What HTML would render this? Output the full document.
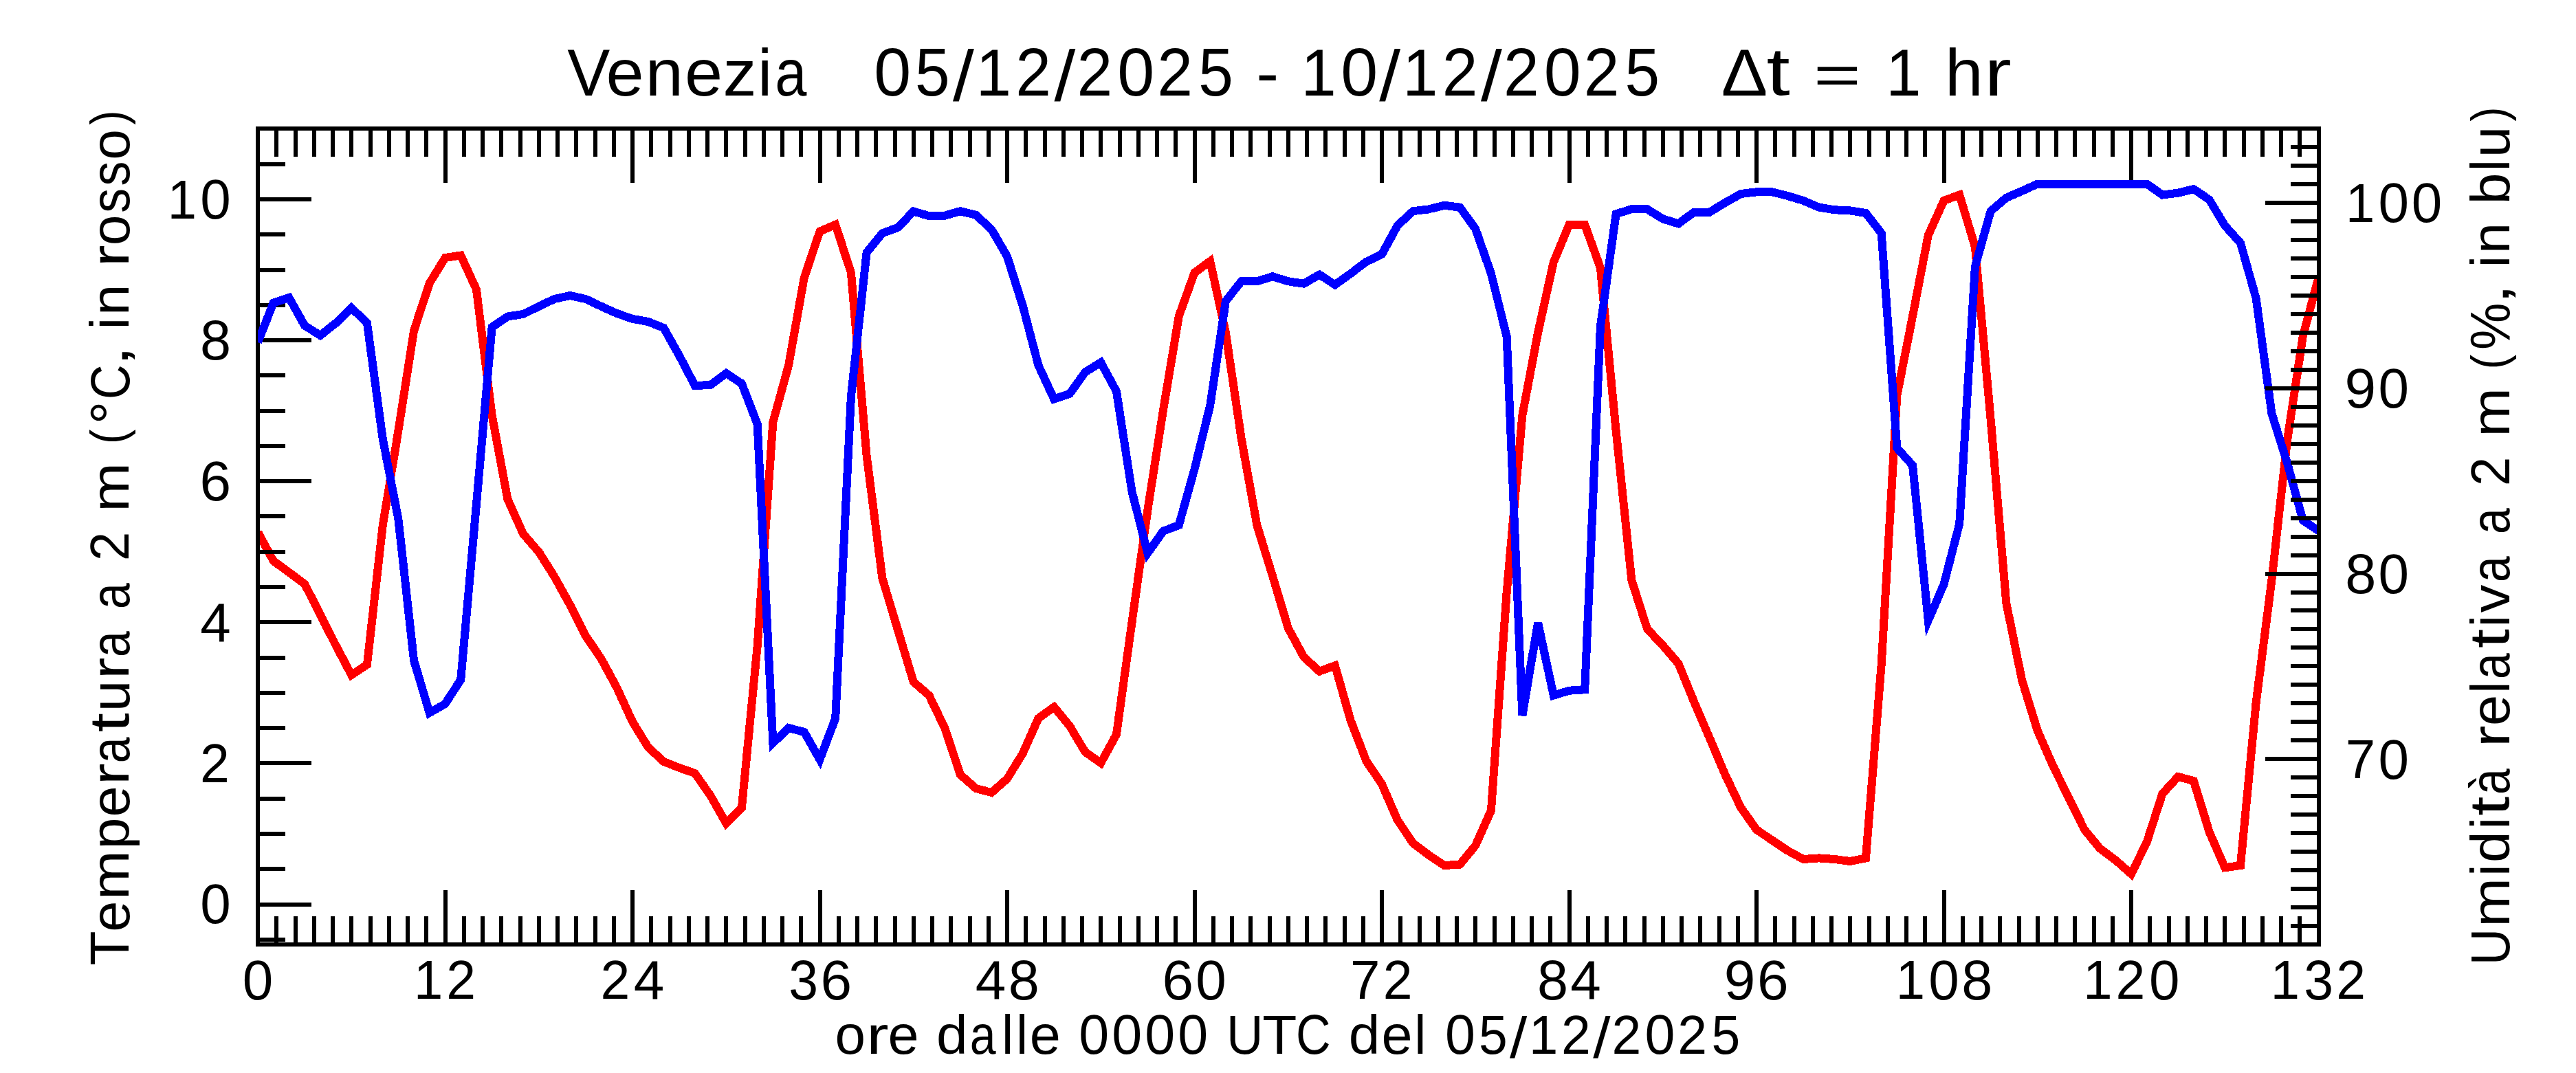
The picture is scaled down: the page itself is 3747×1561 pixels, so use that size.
<!DOCTYPE html>
<html><head><meta charset="utf-8"><title>Venezia</title><style>html,body{margin:0;padding:0;background:#fff;width:3747px;height:1561px;overflow:hidden}svg{display:block}</style></head><body><svg width="3747" height="1561" viewBox="0 0 3747 1561" role="img" aria-label="Venezia 05/12/2025 - 10/12/2025 temperature and humidity chart">
<rect x="0" y="0" width="3747" height="1561" fill="#fff"/>
<defs><clipPath id="pc"><rect x="375" y="187" width="2997.5" height="1187"/></clipPath></defs>
<g clip-path="url(#pc)"><polyline points="375,774 397.71,816 420.42,832.7 443.12,849.5 465.83,894 488.54,939 511.25,982 533.96,967 556.67,765 579.38,626.6 602.08,481 624.79,412 647.5,375 670.21,371.5 692.92,421 715.62,604 738.33,726 761.04,776.8 783.75,803 806.46,839 829.17,880 851.88,925 874.58,958.5 897.29,1000.5 920,1050 942.71,1087 965.42,1108 988.12,1117 1010.83,1125 1033.54,1157.6 1056.25,1197.6 1078.96,1174.6 1101.67,940 1124.38,614 1147.08,531.5 1169.79,403.7 1192.5,336.6 1215.21,326.8 1237.92,396.7 1260.62,663 1283.33,841 1306.04,916.6 1328.75,992 1351.46,1011.7 1374.17,1059 1396.88,1127 1419.58,1147 1442.29,1153 1465,1133 1487.71,1096 1510.42,1045 1533.12,1028.5 1555.83,1056 1578.54,1094 1601.25,1110 1623.96,1068.5 1646.67,904 1669.38,742 1692.08,596 1714.79,460 1737.5,396.7 1760.21,380 1782.92,484 1805.62,637.8 1828.33,764 1851.04,838 1873.75,913.8 1896.46,955.7 1919.17,976.7 1941.88,968.3 1964.58,1048 1987.29,1107 2010,1140.7 2032.71,1193 2055.42,1226.8 2078.12,1243.8 2100.83,1259 2123.54,1257.6 2146.25,1230 2168.96,1179 2191.67,861.5 2214.38,604 2237.08,484 2259.79,381.3 2282.5,326.8 2305.21,326.8 2327.92,389.7 2350.62,626.6 2373.33,844 2396.04,915 2418.75,939 2441.46,965.5 2464.17,1021 2486.88,1074 2509.58,1127.4 2532.29,1175 2555,1207 2577.71,1222.5 2600.42,1237.6 2623.12,1250 2645.83,1248.4 2668.54,1250 2691.25,1253 2713.96,1248.4 2736.67,967 2759.38,575 2782.08,460 2804.79,342.2 2827.5,291.9 2850.21,283.5 2872.92,359 2895.62,610 2918.33,877.4 2941.04,989.3 2963.75,1063 2986.46,1114.6 3009.17,1160.7 3031.88,1206.8 3054.58,1234.5 3077.29,1251.4 3100,1271.4 3122.71,1225.3 3145.42,1154.6 3168.12,1130 3190.83,1136 3213.54,1210 3236.25,1262.2 3258.96,1259 3281.67,1022 3304.38,844 3327.08,640 3349.79,489 3372.5,403.7" fill="none" stroke="#ff0000" stroke-width="12" stroke-linejoin="miter" stroke-miterlimit="4" stroke-linecap="butt" shape-rendering="crispEdges"/></g>
<path d="M375 187v79M375 1374v-79M402.25 187v41M402.25 1374v-41M429.5 187v41M429.5 1374v-41M456.75 187v41M456.75 1374v-41M484 187v41M484 1374v-41M511.25 187v41M511.25 1374v-41M538.5 187v41M538.5 1374v-41M565.75 187v41M565.75 1374v-41M593 187v41M593 1374v-41M620.25 187v41M620.25 1374v-41M647.5 187v79M647.5 1374v-79M674.75 187v41M674.75 1374v-41M702 187v41M702 1374v-41M729.25 187v41M729.25 1374v-41M756.5 187v41M756.5 1374v-41M783.75 187v41M783.75 1374v-41M811 187v41M811 1374v-41M838.25 187v41M838.25 1374v-41M865.5 187v41M865.5 1374v-41M892.75 187v41M892.75 1374v-41M920 187v79M920 1374v-79M947.25 187v41M947.25 1374v-41M974.5 187v41M974.5 1374v-41M1001.75 187v41M1001.75 1374v-41M1029 187v41M1029 1374v-41M1056.25 187v41M1056.25 1374v-41M1083.5 187v41M1083.5 1374v-41M1110.75 187v41M1110.75 1374v-41M1138 187v41M1138 1374v-41M1165.25 187v41M1165.25 1374v-41M1192.5 187v79M1192.5 1374v-79M1219.75 187v41M1219.75 1374v-41M1247 187v41M1247 1374v-41M1274.25 187v41M1274.25 1374v-41M1301.5 187v41M1301.5 1374v-41M1328.75 187v41M1328.75 1374v-41M1356 187v41M1356 1374v-41M1383.25 187v41M1383.25 1374v-41M1410.5 187v41M1410.5 1374v-41M1437.75 187v41M1437.75 1374v-41M1465 187v79M1465 1374v-79M1492.25 187v41M1492.25 1374v-41M1519.5 187v41M1519.5 1374v-41M1546.75 187v41M1546.75 1374v-41M1574 187v41M1574 1374v-41M1601.25 187v41M1601.25 1374v-41M1628.5 187v41M1628.5 1374v-41M1655.75 187v41M1655.75 1374v-41M1683 187v41M1683 1374v-41M1710.25 187v41M1710.25 1374v-41M1737.5 187v79M1737.5 1374v-79M1764.75 187v41M1764.75 1374v-41M1792 187v41M1792 1374v-41M1819.25 187v41M1819.25 1374v-41M1846.5 187v41M1846.5 1374v-41M1873.75 187v41M1873.75 1374v-41M1901 187v41M1901 1374v-41M1928.25 187v41M1928.25 1374v-41M1955.5 187v41M1955.5 1374v-41M1982.75 187v41M1982.75 1374v-41M2010 187v79M2010 1374v-79M2037.25 187v41M2037.25 1374v-41M2064.5 187v41M2064.5 1374v-41M2091.75 187v41M2091.75 1374v-41M2119 187v41M2119 1374v-41M2146.25 187v41M2146.25 1374v-41M2173.5 187v41M2173.5 1374v-41M2200.75 187v41M2200.75 1374v-41M2228 187v41M2228 1374v-41M2255.25 187v41M2255.25 1374v-41M2282.5 187v79M2282.5 1374v-79M2309.75 187v41M2309.75 1374v-41M2337 187v41M2337 1374v-41M2364.25 187v41M2364.25 1374v-41M2391.5 187v41M2391.5 1374v-41M2418.75 187v41M2418.75 1374v-41M2446 187v41M2446 1374v-41M2473.25 187v41M2473.25 1374v-41M2500.5 187v41M2500.5 1374v-41M2527.75 187v41M2527.75 1374v-41M2555 187v79M2555 1374v-79M2582.25 187v41M2582.25 1374v-41M2609.5 187v41M2609.5 1374v-41M2636.75 187v41M2636.75 1374v-41M2664 187v41M2664 1374v-41M2691.25 187v41M2691.25 1374v-41M2718.5 187v41M2718.5 1374v-41M2745.75 187v41M2745.75 1374v-41M2773 187v41M2773 1374v-41M2800.25 187v41M2800.25 1374v-41M2827.5 187v79M2827.5 1374v-79M2854.75 187v41M2854.75 1374v-41M2882 187v41M2882 1374v-41M2909.25 187v41M2909.25 1374v-41M2936.5 187v41M2936.5 1374v-41M2963.75 187v41M2963.75 1374v-41M2991 187v41M2991 1374v-41M3018.25 187v41M3018.25 1374v-41M3045.5 187v41M3045.5 1374v-41M3072.75 187v41M3072.75 1374v-41M3100 187v79M3100 1374v-79M3127.25 187v41M3127.25 1374v-41M3154.5 187v41M3154.5 1374v-41M3181.75 187v41M3181.75 1374v-41M3209 187v41M3209 1374v-41M3236.25 187v41M3236.25 1374v-41M3263.5 187v41M3263.5 1374v-41M3290.75 187v41M3290.75 1374v-41M3318 187v41M3318 1374v-41M3345.25 187v41M3345.25 1374v-41M3372.5 187v79M3372.5 1374v-79M375 1366.78h40M375 1315.5h78M375 1264.22h40M375 1212.95h40M375 1161.67h40M375 1110.4h78M375 1059.12h40M375 1007.85h40M375 956.58h40M375 905.3h78M375 854.03h40M375 802.75h40M375 751.48h40M375 700.2h78M375 648.93h40M375 597.65h40M375 546.38h40M375 495.1h78M375 443.83h40M375 392.55h40M375 341.27h40M375 290h78M375 238.73h40M375 187.45h40" stroke="#000" stroke-width="6" fill="none" shape-rendering="crispEdges"/>
<rect x="375" y="187" width="2997.5" height="1187" fill="none" stroke="#000" stroke-width="6" shape-rendering="crispEdges"/>
<g clip-path="url(#pc)"><polyline points="375,498 397.71,440.6 420.42,433 443.12,473.6 465.83,488 488.54,470 511.25,448 533.96,470 556.67,638 579.38,755 602.08,961 624.79,1037 647.5,1024 670.21,989 692.92,734 715.62,476 738.33,460.5 761.04,457 783.75,445.7 806.46,435 829.17,430 851.88,435 874.58,445.7 897.29,456 920,463.8 942.71,468 965.42,477 988.12,517.5 1010.83,561 1033.54,560 1056.25,543 1078.96,558 1101.67,617 1124.38,1081 1147.08,1059 1169.79,1065 1192.5,1105 1215.21,1045 1237.92,577 1260.62,367.4 1283.33,339.4 1306.04,331 1328.75,307.5 1351.46,314.2 1374.17,313.7 1396.88,307.2 1419.58,312.8 1442.29,333.8 1465,373 1487.71,445 1510.42,531.5 1533.12,580.5 1555.83,573 1578.54,541.3 1601.25,527.3 1623.96,569.3 1646.67,716 1669.38,804.7 1692.08,772.6 1714.79,764 1737.5,682.5 1760.21,590 1782.92,438 1805.62,409.3 1828.33,409.3 1851.04,402.3 1873.75,409.3 1896.46,412.7 1919.17,399.5 1941.88,414.3 1964.58,398 1987.29,380.8 2010,370 2032.71,328.2 2055.42,307.2 2078.12,304.4 2100.83,298.8 2123.54,301.6 2146.25,333 2168.96,398 2191.67,489.6 2214.38,1041 2237.08,906 2259.79,1011.7 2282.5,1004.7 2305.21,1003.3 2327.92,475 2350.62,311.4 2373.33,304 2396.04,304.4 2418.75,318.4 2441.46,325.4 2464.17,308.6 2486.88,308.6 2509.58,294.7 2532.29,282 2555,279.3 2577.71,279.3 2600.42,285 2623.12,291.9 2645.83,301.6 2668.54,305.3 2691.25,306.4 2713.96,310 2736.67,339.4 2759.38,651.8 2782.08,677 2804.79,902.6 2827.5,850 2850.21,762 2872.92,388 2895.62,307.2 2918.33,287.7 2941.04,277.9 2963.75,267.5 2986.46,267.5 3009.17,267.5 3031.88,267.5 3054.58,267.5 3077.29,267.5 3100,267.5 3122.71,267.5 3145.42,283.5 3168.12,280.7 3190.83,275 3213.54,290.5 3236.25,328.2 3258.96,353.4 3281.67,434 3304.38,601.4 3327.08,674 3349.79,757 3372.5,772" fill="none" stroke="#0000ff" stroke-width="12" stroke-linejoin="miter" stroke-miterlimit="4" stroke-linecap="butt" shape-rendering="crispEdges"/></g>
<path d="M3372.5 1374.08h-78M3372.5 1347.1h-41M3372.5 1320.13h-41M3372.5 1293.15h-41M3372.5 1266.17h-41M3372.5 1239.2h-41M3372.5 1212.22h-41M3372.5 1185.24h-41M3372.5 1158.26h-41M3372.5 1131.29h-41M3372.5 1104.31h-78M3372.5 1077.33h-41M3372.5 1050.36h-41M3372.5 1023.38h-41M3372.5 996.4h-41M3372.5 969.42h-41M3372.5 942.45h-41M3372.5 915.47h-41M3372.5 888.49h-41M3372.5 861.52h-41M3372.5 834.54h-78M3372.5 807.56h-41M3372.5 780.59h-41M3372.5 753.61h-41M3372.5 726.63h-41M3372.5 699.65h-41M3372.5 672.68h-41M3372.5 645.7h-41M3372.5 618.72h-41M3372.5 591.75h-41M3372.5 564.77h-78M3372.5 537.79h-41M3372.5 510.82h-41M3372.5 483.84h-41M3372.5 456.86h-41M3372.5 429.88h-41M3372.5 402.91h-41M3372.5 375.93h-41M3372.5 348.95h-41M3372.5 321.98h-41M3372.5 295h-78M3372.5 268.02h-41M3372.5 241.05h-41M3372.5 214.07h-41M3372.5 187.09h-41" stroke="#000" stroke-width="6" fill="none" shape-rendering="crispEdges"/>
<path d="M3372.5 184V1377" stroke="#000" stroke-width="6" fill="none" shape-rendering="crispEdges"/>
<g font-family="Liberation Sans" font-size="100" fill="#000">
<g aria-label="Venezia   05/12/2025 - 10/12/2025   Δt = 1 hr"><text transform="matrix(0.93 0 0 0.97 825.19 138.5)">V</text><text transform="matrix(0.99 0 0 0.96 881.4 138.86)">e</text><text transform="matrix(0.99 0 0 0.96 938.78 138.5)">n</text><text transform="matrix(0.99 0 0 0.96 996.04 138.86)">e</text><text transform="matrix(0.98 0 0 0.95 1051.61 138.5)">z</text><text transform="matrix(0.94 0 0 0.96 1102.2 138.5)">i</text><text transform="matrix(0.83 0 0 0.96 1127.33 138.86)">a</text><text transform="matrix(0.97 0 0 0.98 1271.37 138.84)">0</text><text transform="matrix(0.91 0 0 0.98 1330.92 138.85)">5</text><text transform="matrix(1.11 0 0 1.03 1385.89 146.01)">/</text><text transform="matrix(0.92 0 0 0.97 1419.85 138.5)">1</text><text transform="matrix(0.93 0 0 0.98 1477.24 138.5)">2</text><text transform="matrix(1.11 0 0 1.03 1533.6 146.01)">/</text><text transform="matrix(0.93 0 0 0.98 1566.55 138.5)">2</text><text transform="matrix(0.97 0 0 0.98 1625.19 138.84)">0</text><text transform="matrix(0.93 0 0 0.98 1683.34 138.5)">2</text><text transform="matrix(0.91 0 0 0.98 1743.13 138.85)">5</text><text transform="matrix(0.99 0 0 0.94 1827.36 138.35)">-</text><text transform="matrix(0.92 0 0 0.97 1892.61 138.5)">1</text><text transform="matrix(0.97 0 0 0.98 1950.23 138.84)">0</text><text transform="matrix(1.11 0 0 1.03 2006.36 146.01)">/</text><text transform="matrix(0.92 0 0 0.97 2040.33 138.5)">1</text><text transform="matrix(0.93 0 0 0.98 2097.71 138.5)">2</text><text transform="matrix(1.11 0 0 1.03 2154.07 146.01)">/</text><text transform="matrix(0.93 0 0 0.98 2187.03 138.5)">2</text><text transform="matrix(0.97 0 0 0.98 2245.66 138.84)">0</text><text transform="matrix(0.93 0 0 0.98 2303.81 138.5)">2</text><text transform="matrix(0.91 0 0 0.98 2363.6 138.85)">5</text><text transform="matrix(1.01 0 0 0.97 2503.81 138.5)">Δ</text><text transform="matrix(1.23 0 0 0.98 2569.49 137.73)">t</text><text transform="matrix(1.18 0 0 0.8 2638 136.23)">=</text><text transform="matrix(0.92 0 0 0.97 2743.17 138.5)">1</text><text transform="matrix(1 0 0 0.96 2829.12 138.5)">h</text><text transform="matrix(1.18 0 0 0.96 2886.39 138.5)">r</text></g>
<g aria-label="ore dalle 0000 UTC del 05/12/2025"><text transform="matrix(0.8 0 0 0.79 1214.52 1533)">o</text><text transform="matrix(0.97 0 0 0.78 1260.28 1532.7)">r</text><text transform="matrix(0.81 0 0 0.79 1291.54 1533)">e</text><text transform="matrix(0.82 0 0 0.79 1361.89 1532.99)">d</text><text transform="matrix(0.68 0 0 0.79 1410.66 1533)">a</text><text transform="matrix(0.77 0 0 0.79 1457.11 1532.7)">l</text><text transform="matrix(0.77 0 0 0.79 1478.06 1532.7)">l</text><text transform="matrix(0.81 0 0 0.79 1497.79 1533)">e</text><text transform="matrix(0.79 0 0 0.81 1569.28 1532.98)">0</text><text transform="matrix(0.79 0 0 0.81 1617.24 1532.98)">0</text><text transform="matrix(0.79 0 0 0.81 1665.19 1532.98)">0</text><text transform="matrix(0.79 0 0 0.81 1713.15 1532.98)">0</text><text transform="matrix(0.74 0 0 0.8 1784.04 1532.98)">U</text><text transform="matrix(0.82 0 0 0.8 1836.3 1532.7)">T</text><text transform="matrix(0.7 0 0 0.81 1885.09 1532.98)">C</text><text transform="matrix(0.82 0 0 0.79 1961.72 1532.99)">d</text><text transform="matrix(0.81 0 0 0.79 2009.55 1533)">e</text><text transform="matrix(0.77 0 0 0.79 2057.13 1532.7)">l</text><text transform="matrix(0.79 0 0 0.81 2101.99 1532.98)">0</text><text transform="matrix(0.75 0 0 0.8 2150.89 1532.98)">5</text><text transform="matrix(0.91 0 0 0.84 2196.03 1538.87)">/</text><text transform="matrix(0.76 0 0 0.8 2223.93 1532.7)">1</text><text transform="matrix(0.77 0 0 0.8 2271.05 1532.7)">2</text><text transform="matrix(0.91 0 0 0.84 2317.34 1538.87)">/</text><text transform="matrix(0.77 0 0 0.8 2344.4 1532.7)">2</text><text transform="matrix(0.79 0 0 0.81 2392.56 1532.98)">0</text><text transform="matrix(0.77 0 0 0.8 2440.32 1532.7)">2</text><text transform="matrix(0.75 0 0 0.8 2489.42 1532.98)">5</text></g>
<g aria-label="0"><text transform="matrix(0.8 0 0 0.81 291.17 1343.48)">0</text></g>
<g aria-label="2"><text transform="matrix(0.77 0 0 0.8 290.97 1138.1)">2</text></g>
<g aria-label="4"><text transform="matrix(0.8 0 0 0.8 291.16 933)">4</text></g>
<g aria-label="6"><text transform="matrix(0.82 0 0 0.81 290.39 728.18)">6</text></g>
<g aria-label="8"><text transform="matrix(0.81 0 0 0.81 290.93 523.08)">8</text></g>
<g aria-label="10"><text transform="matrix(0.76 0 0 0.8 243.71 317.7)">1</text><text transform="matrix(0.8 0 0 0.81 291.17 317.98)">0</text></g>
<g aria-label="70"><text transform="matrix(0.78 0 0 0.8 3411.8 1132.31)">7</text><text transform="matrix(0.8 0 0 0.81 3459.57 1132.59)">0</text></g>
<g aria-label="80"><text transform="matrix(0.81 0 0 0.81 3411.23 862.82)">8</text><text transform="matrix(0.8 0 0 0.81 3459.57 862.82)">0</text></g>
<g aria-label="90"><text transform="matrix(0.82 0 0 0.81 3410.5 593.05)">9</text><text transform="matrix(0.8 0 0 0.81 3459.57 593.05)">0</text></g>
<g aria-label="100"><text transform="matrix(0.76 0 0 0.8 3412.11 323)">1</text><text transform="matrix(0.8 0 0 0.81 3459.57 323.28)">0</text><text transform="matrix(0.8 0 0 0.81 3507.67 323.28)">0</text></g>
<g aria-label="0"><text transform="matrix(0.8 0 0 0.81 352.82 1453.58)">0</text></g>
<g aria-label="12"><text transform="matrix(0.76 0 0 0.8 601.91 1453.3)">1</text><text transform="matrix(0.77 0 0 0.8 649.17 1453.3)">2</text></g>
<g aria-label="24"><text transform="matrix(0.77 0 0 0.8 873.57 1453.3)">2</text><text transform="matrix(0.8 0 0 0.8 921.86 1453.3)">4</text></g>
<g aria-label="36"><text transform="matrix(0.77 0 0 0.81 1147.24 1453.58)">3</text><text transform="matrix(0.82 0 0 0.81 1193.59 1453.58)">6</text></g>
<g aria-label="48"><text transform="matrix(0.8 0 0 0.8 1418.76 1453.3)">4</text><text transform="matrix(0.81 0 0 0.81 1466.63 1453.58)">8</text></g>
<g aria-label="60"><text transform="matrix(0.82 0 0 0.81 1690.49 1453.58)">6</text><text transform="matrix(0.8 0 0 0.81 1739.37 1453.58)">0</text></g>
<g aria-label="72"><text transform="matrix(0.78 0 0 0.8 1964.11 1453.3)">7</text><text transform="matrix(0.77 0 0 0.8 2011.67 1453.3)">2</text></g>
<g aria-label="84"><text transform="matrix(0.81 0 0 0.81 2236.03 1453.58)">8</text><text transform="matrix(0.8 0 0 0.8 2284.36 1453.3)">4</text></g>
<g aria-label="96"><text transform="matrix(0.82 0 0 0.81 2507.8 1453.58)">9</text><text transform="matrix(0.82 0 0 0.81 2556.09 1453.58)">6</text></g>
<g aria-label="108"><text transform="matrix(0.76 0 0 0.8 2757.86 1453.3)">1</text><text transform="matrix(0.8 0 0 0.81 2805.32 1453.58)">0</text><text transform="matrix(0.81 0 0 0.81 2853.18 1453.58)">8</text></g>
<g aria-label="120"><text transform="matrix(0.76 0 0 0.8 3030.36 1453.3)">1</text><text transform="matrix(0.77 0 0 0.8 3077.62 1453.3)">2</text><text transform="matrix(0.8 0 0 0.81 3125.92 1453.58)">0</text></g>
<g aria-label="132"><text transform="matrix(0.76 0 0 0.8 3302.86 1453.3)">1</text><text transform="matrix(0.77 0 0 0.81 3351.29 1453.58)">3</text><text transform="matrix(0.77 0 0 0.8 3398.22 1453.3)">2</text></g>
<g aria-label="Temperatura a 2 m (°C, in rosso)" transform="translate(187.3 1402.4) rotate(-90)"><text transform="matrix(0.82 0 0 0.8 -2.06 0)">T</text><text transform="matrix(0.81 0 0 0.79 46.66 0.3)">e</text><text transform="matrix(0.86 0 0 0.78 93.4 0)">m</text><text transform="matrix(0.82 0 0 0.78 167.11 -0.44)">p</text><text transform="matrix(0.81 0 0 0.79 214.01 0.3)">e</text><text transform="matrix(0.96 0 0 0.78 260.04 0)">r</text><text transform="matrix(0.68 0 0 0.79 292.19 0.3)">a</text><text transform="matrix(1.01 0 0 0.81 337.15 -0.63)">t</text><text transform="matrix(0.81 0 0 0.8 367.28 0.28)">u</text><text transform="matrix(0.96 0 0 0.78 414.27 0)">r</text><text transform="matrix(0.68 0 0 0.79 446.42 0.3)">a</text><text transform="matrix(0.68 0 0 0.79 516.45 0.3)">a</text><text transform="matrix(0.76 0 0 0.8 586.5 0)">2</text><text transform="matrix(0.86 0 0 0.78 657.76 0)">m</text><text transform="matrix(0.64 0 0 0.72 756.36 -4.97)">(</text><text transform="matrix(0.83 0 0 0.84 785.41 2.68)">°</text><text transform="matrix(0.7 0 0 0.8 821.49 0.28)">C</text><text transform="matrix(1.1 0 0 0.77 869.3 -1.1)">,</text><text transform="matrix(0.77 0 0 0.79 923.13 0)">i</text><text transform="matrix(0.81 0 0 0.78 943.54 0)">n</text><text transform="matrix(0.96 0 0 0.78 1014.13 0)">r</text><text transform="matrix(0.8 0 0 0.79 1045.43 0.3)">o</text><text transform="matrix(0.72 0 0 0.79 1092.74 0.29)">s</text><text transform="matrix(0.72 0 0 0.79 1131.94 0.29)">s</text><text transform="matrix(0.8 0 0 0.79 1169.87 0.3)">o</text><text transform="matrix(0.64 0 0 0.72 1220.76 -4.97)">)</text></g>
<g aria-label="Umidità relativa a 2 m (%, in blu)" transform="translate(3650 1405) rotate(-90)"><text transform="matrix(0.74 0 0 0.8 0.83 0.28)">U</text><text transform="matrix(0.86 0 0 0.78 56.18 0)">m</text><text transform="matrix(0.77 0 0 0.79 130.23 0)">i</text><text transform="matrix(0.82 0 0 0.79 149.9 0.29)">d</text><text transform="matrix(0.77 0 0 0.79 198.86 0)">i</text><text transform="matrix(1.01 0 0 0.81 218.31 -0.63)">t</text><text transform="matrix(0.68 0 0 0.82 248.93 0.26)">à</text><text transform="matrix(0.96 0 0 0.78 317.71 0)">r</text><text transform="matrix(0.81 0 0 0.79 348.89 0.3)">e</text><text transform="matrix(0.77 0 0 0.79 396.36 0)">l</text><text transform="matrix(0.68 0 0 0.79 416.99 0.3)">a</text><text transform="matrix(1.01 0 0 0.81 461.92 -0.63)">t</text><text transform="matrix(0.77 0 0 0.79 492.85 0)">i</text><text transform="matrix(0.81 0 0 0.78 513.76 0)">v</text><text transform="matrix(0.68 0 0 0.79 557.95 0.3)">a</text><text transform="matrix(0.68 0 0 0.79 627.93 0.3)">a</text><text transform="matrix(0.76 0 0 0.8 697.93 0)">2</text><text transform="matrix(0.86 0 0 0.78 769.16 0)">m</text><text transform="matrix(0.64 0 0 0.72 867.69 -4.97)">(</text><text transform="matrix(0.77 0 0 0.81 895.9 0.59)">%</text><text transform="matrix(1.1 0 0 0.77 961.91 -1.1)">,</text><text transform="matrix(0.77 0 0 0.79 1015.71 0)">i</text><text transform="matrix(0.81 0 0 0.78 1036.1 0)">n</text><text transform="matrix(0.82 0 0 0.79 1107.77 0.29)">b</text><text transform="matrix(0.77 0 0 0.79 1155.86 0)">l</text><text transform="matrix(0.81 0 0 0.8 1175.97 0.28)">u</text><text transform="matrix(0.64 0 0 0.72 1228.15 -4.97)">)</text></g>
</g>
</svg></body></html>
